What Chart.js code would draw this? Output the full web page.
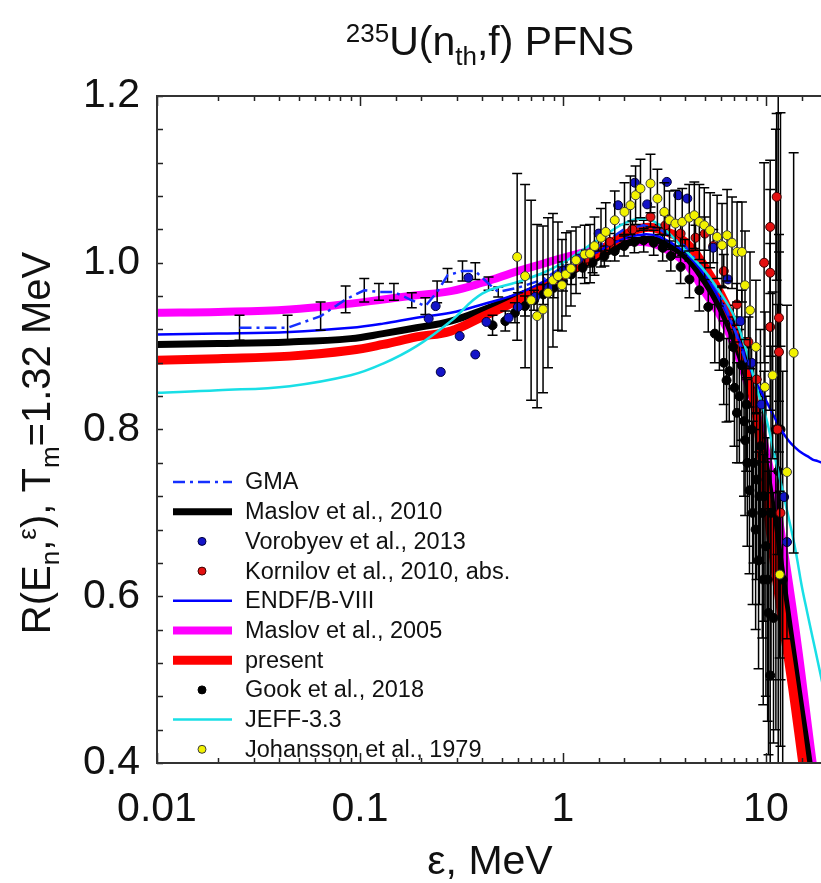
<!DOCTYPE html>
<html>
<head>
<meta charset="utf-8">
<script src="https://cdn.jsdelivr.net/npm/chart.js@4.4.0/dist/chart.umd.min.js"></script>
<style>
  html, body { margin: 0; padding: 0; background: #fff; overflow: hidden; }
  #wrap { width: 849px; height: 883px; }
</style>
</head>
<body>
<div id="wrap"><canvas id="pfns" width="849" height="883"></canvas></div>
<script>
const FONT = "'Liberation Sans', Arial, sans-serif";

// calculated curves, one shared energy grid (MeV)
const curveE     = [0.01, 0.02, 0.045, 0.09, 0.13, 0.19, 0.28, 0.4, 0.6, 0.8, 1.0, 1.5, 2.0, 2.5, 3.0, 4.0, 5.0, 6.0, 7.0, 8.0, 9.0, 10, 11, 12, 13, 14, 15, 16, 17, 18, 20];
const maslov2010 = [0.902, 0.903, 0.905, 0.909, 0.915, 0.922, 0.930, 0.943, 0.960, 0.973, 0.984, 1.007, 1.022, 1.028, 1.026, 1.008, 0.978, 0.945, 0.908, 0.865, 0.815, 0.755, 0.690, 0.625, 0.565, 0.510, 0.460, 0.415, 0.370, 0.330, 0.260];
const endf       = [0.914, 0.915, 0.917, 0.922, 0.927, 0.934, 0.940, 0.950, 0.963, 0.977, 0.990, 1.014, 1.029, 1.034, 1.031, 1.012, 0.985, 0.953, 0.920, 0.885, 0.855, 0.835, 0.815, 0.798, 0.786, 0.778, 0.772, 0.768, 0.764, 0.762, 0.758];
const maslov2005 = [0.940, 0.941, 0.944, 0.951, 0.956, 0.961, 0.966, 0.976, 0.990, 0.999, 1.006, 1.017, 1.024, 1.025, 1.020, 1.000, 0.965, 0.935, 0.900, 0.860, 0.820, 0.775, 0.725, 0.670, 0.615, 0.560, 0.505, 0.450, 0.400, 0.355, 0.280];
const present    = [0.883, 0.885, 0.888, 0.895, 0.902, 0.911, 0.918, 0.935, 0.955, 0.972, 0.985, 1.013, 1.033, 1.042, 1.040, 1.025, 0.995, 0.962, 0.925, 0.878, 0.815, 0.720, 0.640, 0.575, 0.520, 0.465, 0.410, 0.360, 0.310, 0.270, 0.200];
const jeff       = [0.844, 0.847, 0.852, 0.865, 0.879, 0.900, 0.930, 0.963, 0.977, 0.988, 1.000, 1.028, 1.047, 1.053, 1.045, 1.015, 0.990, 0.963, 0.935, 0.895, 0.850, 0.815, 0.770, 0.730, 0.692, 0.655, 0.613, 0.580, 0.550, 0.522, 0.470];

// GMA evaluation
const gmaE   = [0.0255, 0.044, 0.064, 0.085, 0.105, 0.124, 0.147, 0.18, 0.21, 0.24, 0.27, 0.32, 0.37, 0.43, 0.48, 0.6, 0.8, 1.0, 1.5, 2.0, 2.5, 3.0, 4.0, 5.0, 6.0, 7.0, 8.0];
const gmaR   = [0.922, 0.922, 0.936, 0.956, 0.967, 0.965, 0.965, 0.955, 0.948, 0.965, 0.985, 0.990, 0.990, 0.975, 0.965, 0.970, 0.980, 0.995, 1.020, 1.040, 1.045, 1.040, 1.020, 0.990, 0.960, 0.920, 0.880];
const gmaErr = [0.015, 0.015, 0.017, 0.016, 0.014, 0.010, 0.010, 0.009, 0.010, 0.013, 0.008, 0.012, 0.010, 0.008, 0.006, 0.006, 0.006, 0.006, 0.006, 0.006, 0.006, 0.006, 0.008, 0.010, 0.012, 0.015, 0.018];

// experiments
const vorE = [0.218, 0.236, 0.25, 0.31, 0.342, 0.37, 0.42, 0.54, 0.6, 0.73, 0.85, 1.0, 1.2, 1.5, 1.87, 2.26, 2.6, 3.25, 3.7, 4.1, 5.5, 6.5, 7.5, 8.5, 9.5, 12.3, 12.7];
const vorR = [0.933, 0.948, 0.869, 0.912, 0.982, 0.890, 0.929, 0.934, 0.947, 0.959, 0.970, 0.990, 1.005, 1.035, 1.069, 1.096, 1.070, 1.097, 1.081, 1.077, 1.018, 0.980, 0.930, 0.880, 0.830, 0.719, 0.665];

const korE   = [1.0, 1.3, 1.7, 2.2, 2.7, 3.2, 3.8, 4.5, 5.0, 5.5, 6.2, 7.2, 8.2, 9.0, 9.8, 10.5, 10.5, 10.5, 11.3, 11.6, 11.6, 11.4, 11.8];
const korR   = [0.985, 1.005, 1.025, 1.040, 1.055, 1.045, 1.035, 1.030, 1.035, 1.020, 0.990, 0.950, 0.905, 0.860, 1.000, 1.043, 0.988, 0.923, 1.079, 0.934, 0.893, 0.800, 0.700];
const korErr = [0.01, 0.01, 0.01, 0.01, 0.012, 0.012, 0.015, 0.015, 0.02, 0.02, 0.02, 0.025, 0.03, 0.04, 0.12, 0.08, 0.10, 0.10, 0.10, 0.10, 0.12, 0.15, 0.20];

const gookE   = [0.45, 0.52, 0.58, 0.65, 0.72, 0.8, 0.9, 1.0, 1.1, 1.25, 1.4, 1.6, 1.8, 2.0, 2.25, 2.5, 2.8, 3.1, 3.4, 3.8, 4.2, 4.7, 5.2, 5.6, 5.9, 6.2, 6.4, 6.6, 6.9, 7.0, 7.2, 7.4, 7.6, 7.8, 7.9, 8.0, 8.1, 8.3, 8.5, 8.6, 8.7, 8.9, 9.0, 9.2, 9.3, 9.4, 9.6, 9.7, 9.8, 10.0, 10.2, 10.3, 10.5, 10.6, 10.9, 11.2, 11.5, 11.8, 12.1];
const gookR   = [0.925, 0.930, 0.940, 0.948, 0.955, 0.962, 0.970, 0.978, 0.986, 0.994, 1.000, 1.008, 1.014, 1.020, 1.025, 1.027, 1.024, 1.018, 1.008, 0.995, 0.980, 0.967, 0.947, 0.915, 0.911, 0.880, 0.859, 0.870, 0.899, 0.850, 0.820, 0.840, 0.877, 0.810, 0.787, 0.830, 0.760, 0.727, 0.800, 0.700, 0.760, 0.680, 0.740, 0.643, 0.720, 0.780, 0.700, 0.620, 0.720, 0.660, 0.620, 0.580, 0.505, 0.700, 0.574, 0.800, 0.750, 0.800, 0.620];
const gookErr = [0.012, 0.012, 0.012, 0.012, 0.012, 0.012, 0.012, 0.012, 0.012, 0.012, 0.012, 0.012, 0.012, 0.012, 0.013, 0.014, 0.015, 0.016, 0.018, 0.020, 0.022, 0.025, 0.030, 0.035, 0.040, 0.050, 0.050, 0.060, 0.050, 0.070, 0.060, 0.080, 0.090, 0.090, 0.090, 0.080, 0.100, 0.100, 0.100, 0.110, 0.120, 0.120, 0.120, 0.130, 0.130, 0.140, 0.150, 0.150, 0.150, 0.180, 0.170, 0.170, 0.200, 0.200, 0.150, 0.360, 0.500, 0.380, 0.250];

const johE   = [0.595, 0.651, 0.697, 0.746, 0.798, 0.844, 0.893, 0.945, 0.989, 1.035, 1.095, 1.16, 1.28, 1.36, 1.43, 1.54, 1.625, 1.80, 2.01, 2.15, 2.28, 2.41, 2.70, 2.92, 3.16, 3.35, 3.58, 3.87, 4.19, 4.44, 4.70, 4.97, 5.31, 5.75, 6.08, 6.44, 6.81, 7.21, 7.62, 7.89, 8.35, 8.93, 9.89, 10.8, 11.7, 12.7, 13.7];
const johR   = [1.007, 0.984, 0.955, 0.936, 0.944, 0.964, 0.979, 0.984, 0.973, 0.986, 0.993, 1.003, 1.010, 1.011, 1.020, 1.030, 1.037, 1.051, 1.061, 1.069, 1.081, 1.089, 1.095, 1.077, 1.061, 1.051, 1.047, 1.049, 1.054, 1.057, 1.049, 1.045, 1.039, 1.031, 1.021, 1.033, 1.024, 1.013, 1.013, 0.973, 0.943, 0.899, 0.851, 0.865, 0.626, 0.749, 0.892];
const johErr = [0.10, 0.11, 0.12, 0.11, 0.10, 0.09, 0.08, 0.065, 0.055, 0.05, 0.045, 0.04, 0.035, 0.035, 0.035, 0.035, 0.035, 0.035, 0.035, 0.035, 0.035, 0.035, 0.035, 0.035, 0.035, 0.035, 0.04, 0.04, 0.04, 0.04, 0.045, 0.045, 0.045, 0.05, 0.05, 0.055, 0.055, 0.06, 0.06, 0.065, 0.07, 0.08, 0.09, 0.10, 0.10, 0.20, 0.24];

// axes
const xTickVals = [0.01, 0.1, 1, 10];
const xTickText = ['0.01', '0.1', '1', '10'];
const yMin = 0.4, yMax = 1.2, yStep = 0.2, yMinor = 0.04;

const legendOrder = ['GMA', 'Maslov et al., 2010', 'Vorobyev et al., 2013', 'Kornilov et al., 2010, abs.', 'ENDF/B-VIII',
  'Maslov et al., 2005', 'present', 'Gook et al., 2018', 'JEFF-3.3', 'Johansson et al., 1979'];

const pts = (xs, ys) => xs.map((x, i) => ({ x, y: ys[i] }));

function curve(label, ys, color, width, order) {
  return { label, data: pts(curveE, ys), showLine: true, borderColor: color, borderWidth: width,
    pointRadius: 0, tension: 0.4, order, fill: false };
}
function dots(label, xs, ys, errs, fill, edge, r, order) {
  return { label, data: pts(xs, ys), errs, showLine: false, pointRadius: r,
    pointBackgroundColor: fill, pointBorderColor: edge, pointBorderWidth: 1, order };
}

const datasets = [
  curve('Maslov et al., 2005', maslov2005, '#ff00ff', 8, 9),
  curve('Maslov et al., 2010', maslov2010, '#000000', 7, 8),
  curve('present', present, '#ff0000', 9, 7),
  dots('Gook et al., 2018', gookE, gookR, gookErr, '#000000', '#000000', 4.5, 6),
  curve('ENDF/B-VIII', endf, '#0000ff', 2.5, 5),
  { label: 'GMA', data: pts(gmaE, gmaR), errs: gmaErr, showLine: true, borderColor: '#1530ff', borderWidth: 2.5,
    borderDash: [12, 5, 3, 5], pointRadius: 0, tension: 0, order: 4, fill: false },
  curve('JEFF-3.3', jeff, '#19dfe6', 2.5, 3),
  dots('Kornilov et al., 2010, abs.', korE, korR, korErr, '#e31010', '#3a0000', 4.5, 2),
  dots('Vorobyev et al., 2013', vorE, vorR, null, '#1414c8', '#00003a', 4.5, 1),
  dots('Johansson et al., 1979', johE, johR, johErr, '#f2f200', '#3c3c3c', 4.5, 0)
];

function clipArea(ctx, a) {
  ctx.beginPath();
  ctx.rect(a.left, a.top, a.right - a.left, a.bottom - a.top);
  ctx.clip();
}

// vertical error bars, drawn under each dataset's own markers
const errorBars = {
  id: 'errorBars',
  beforeDatasetDraw(chart, args) {
    const ds = chart.data.datasets[args.index];
    if (!ds.errs) return;
    const { ctx, chartArea: a, scales: { x, y } } = chart;
    ctx.save();
    clipArea(ctx, a);
    ctx.strokeStyle = '#000';
    ctx.lineWidth = 1.5;
    ds.data.forEach((p, i) => {
      const e = ds.errs[i];
      if (!e) return;
      const px = x.getPixelForValue(p.x);
      const t = y.getPixelForValue(p.y + e), b = y.getPixelForValue(p.y - e);
      ctx.beginPath();
      ctx.moveTo(px, t); ctx.lineTo(px, b);
      ctx.moveTo(px - 5, t); ctx.lineTo(px + 5, t);
      ctx.moveTo(px - 5, b); ctx.lineTo(px + 5, b);
      ctx.stroke();
    });
    ctx.restore();
  }
};

const isDecade = v => Math.abs(Math.log10(v) - Math.round(Math.log10(v))) < 1e-6;

// box with inward ticks on all four sides
const frame = {
  id: 'frame',
  afterDatasetsDraw(chart) {
    const { ctx, chartArea: a, scales: { x, y } } = chart;
    ctx.save();
    ctx.strokeStyle = '#222';
    ctx.lineWidth = 1.5;
    ctx.beginPath();
    x.ticks.forEach(t => {
      const px = Math.round(x.getPixelForValue(t.value)) + 0.5;
      const len = isDecade(t.value) ? 10 : 5;
      ctx.moveTo(px, a.bottom); ctx.lineTo(px, a.bottom - len);
      ctx.moveTo(px, a.top); ctx.lineTo(px, a.top + len);
    });
    for (let v = yMin; v <= yMax + 1e-9; v += yMinor) {
      const py = Math.round(y.getPixelForValue(v)) + 0.5;
      ctx.moveTo(a.left, py); ctx.lineTo(a.left + 6, py);
      ctx.moveTo(a.right, py); ctx.lineTo(a.right - 6, py);
    }
    ctx.stroke();
    ctx.lineWidth = 2;
    ctx.strokeStyle = '#333';
    ctx.strokeRect(a.left, a.top, a.right - a.left, a.bottom - a.top);
    ctx.restore();
  }
};

// text with sub/superscripts: parts = [text, size, dy]
function richWidth(ctx, parts) {
  let w = 0;
  parts.forEach(p => { ctx.font = p[1] + 'px ' + FONT; w += ctx.measureText(p[0]).width; });
  return w;
}
function richText(ctx, parts, cx, y) {
  let x = cx - richWidth(ctx, parts) / 2;
  parts.forEach(p => {
    ctx.font = p[1] + 'px ' + FONT;
    ctx.fillText(p[0], x, y + p[2]);
    x += ctx.measureText(p[0]).width;
  });
}

const labels = {
  id: 'labels',
  afterDraw(chart) {
    const { ctx } = chart;
    ctx.save();
    ctx.fillStyle = '#111';
    ctx.textBaseline = 'alphabetic';
    ctx.textAlign = 'left';
    richText(ctx, [['235', 26, -13], ['U(n', 41, 0], ['th', 26, 10], [',f) PFNS', 41, 0]], 490, 55);
    richText(ctx, [['\u03b5, MeV', 41, 0]], 490, 874);
    ctx.translate(50, 443);
    ctx.rotate(-Math.PI / 2);
    richText(ctx, [['R(E', 40, 0], ['n', 26, 9], [',', 40, 0], ['\u03b5', 26, -14], ['), T', 40, 0], ['m', 26, 9], ['=1.32 MeV', 40, 0]], 0, 0);
    ctx.restore();

    // legend inside the plot, lower left
    ctx.save();
    legendOrder.forEach((name, i) => {
      const ds = chart.data.datasets.find(d => d.label === name);
      const yc = 482 + i * 29.7;
      if (ds.showLine) {
        ctx.strokeStyle = ds.borderColor;
        ctx.lineWidth = ds.borderWidth;
        ctx.setLineDash(ds.borderDash || []);
        ctx.beginPath();
        ctx.moveTo(173, yc); ctx.lineTo(232, yc);
        ctx.stroke();
        ctx.setLineDash([]);
      } else {
        ctx.fillStyle = ds.pointBackgroundColor;
        ctx.strokeStyle = ds.pointBorderColor;
        ctx.lineWidth = 1;
        ctx.beginPath();
        ctx.arc(202, yc, 4, 0, Math.PI * 2);
        ctx.fill(); ctx.stroke();
      }
      ctx.fillStyle = '#111';
      ctx.font = '23.5px ' + FONT;
      ctx.textBaseline = 'middle';
      ctx.fillText(name, 245, yc + 1);
    });
    ctx.restore();
  }
};

new Chart(document.getElementById('pfns'), {
  type: 'scatter',
  data: { datasets },
  options: {
    responsive: false,
    devicePixelRatio: 1,
    animation: false,
    events: [],
    layout: { padding: { top: 96, right: 0, left: 0, bottom: 0 } },
    plugins: { legend: { display: false }, tooltip: { enabled: false } },
    scales: {
      x: {
        type: 'logarithmic', min: 0.01, max: 20,
        grid: { display: false, drawTicks: false },
        border: { display: false },
        afterFit: s => { s.height = 120; },
        ticks: {
          autoSkip: false, maxRotation: 0, padding: 22, color: '#111',
          font: { size: 41, family: FONT },
          callback: v => {
            const i = xTickVals.findIndex(t => Math.abs(t - v) < t * 1e-6);
            return i >= 0 ? xTickText[i] : '';
          }
        }
      },
      y: {
        min: yMin, max: yMax,
        grid: { display: false, drawTicks: false },
        border: { display: false },
        afterFit: s => { s.width = 157; },
        ticks: {
          stepSize: yStep, padding: 17, color: '#111',
          font: { size: 41, family: FONT },
          callback: v => v.toFixed(1)
        }
      }
    }
  },
  plugins: [errorBars, frame, labels]
});
</script>
</body>
</html>
